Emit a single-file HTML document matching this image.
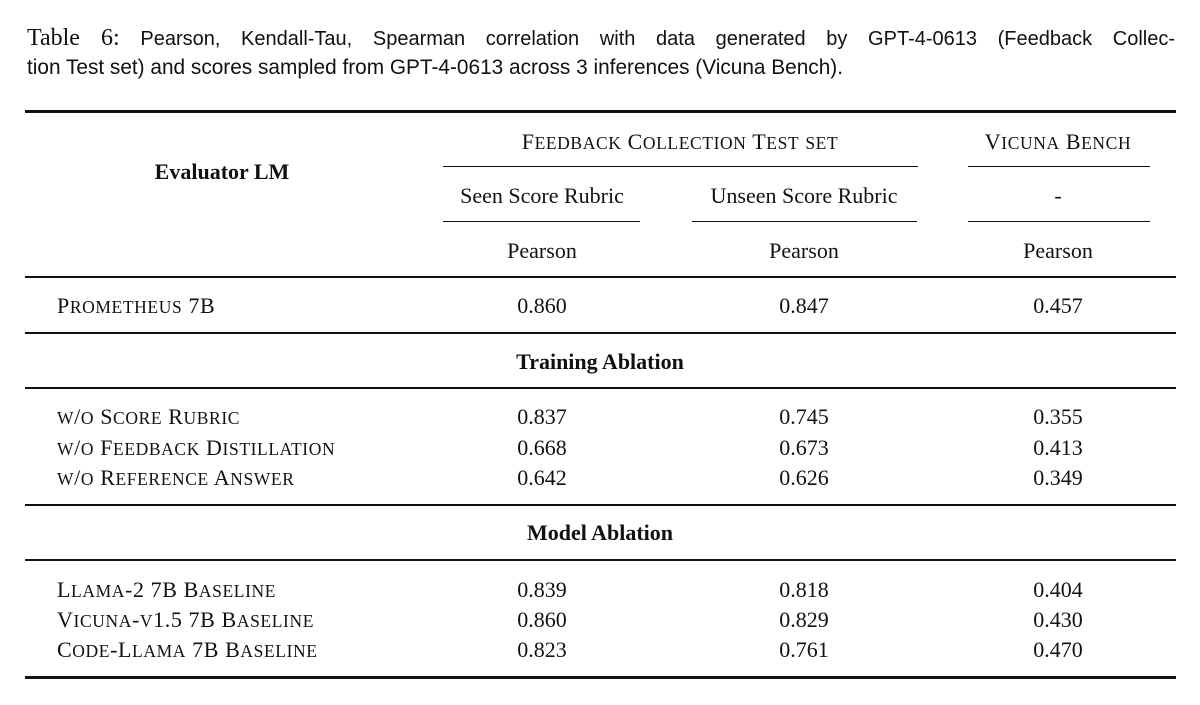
<!DOCTYPE html>
<html><head><meta charset="utf-8"><style>
body{margin:0;width:1200px;height:705px;background:#fff;position:relative;overflow:hidden;font-family:"Liberation Serif",serif;color:#111}
.t{position:absolute;white-space:nowrap;font-size:22px;line-height:1}
.c{transform:translateX(-50%)}
.sc{letter-spacing:0.6px}
.sc .s{font-size:17.5px}
.r{position:absolute;background:#111}
.cap{position:absolute;left:27px;font-family:"Liberation Sans",sans-serif;font-size:21px;line-height:1;white-space:nowrap;transform-origin:0 0}
</style></head><body>
<div class="cap" id="cap1" style="top:26px;width:1148px;text-align:justify;text-align-last:justify;font-size:20px"><span style="font-family:'Liberation Serif',serif;font-size:24px">Table 6:</span> Pearson, Kendall-Tau, Spearman correlation with data generated by GPT-4-0613 (Feedback Collec-</div>
<div class="cap" id="cap2" style="top:57px">tion Test set) and scores sampled from GPT-4-0613 across 3 inferences (Vicuna Bench).</div>

<div class="r" style="left:25px;width:1151px;top:110px;height:3px"></div>
<div class="t c" style="left:222px;top:161px;font-weight:bold">Evaluator LM</div>
<div class="t c sc" style="left:680px;top:131px">Feedback Collection Test set</div>
<div class="t c sc" style="left:1058px;top:131px">Vicuna Bench</div>
<div class="r" style="left:443px;width:475px;top:166px;height:1px"></div>
<div class="r" style="left:968px;width:182px;top:166px;height:1px"></div>
<div class="t c" style="left:542px;top:185px">Seen Score Rubric</div>
<div class="t c" style="left:804px;top:185px">Unseen Score Rubric</div>
<div class="t c" style="left:1058px;top:185px">-</div>
<div class="r" style="left:443px;width:197px;top:221px;height:1px"></div>
<div class="r" style="left:692px;width:225px;top:221px;height:1px"></div>
<div class="r" style="left:968px;width:182px;top:221px;height:1px"></div>
<div class="t c" style="left:542px;top:240px">Pearson</div>
<div class="t c" style="left:804px;top:240px">Pearson</div>
<div class="t c" style="left:1058px;top:240px">Pearson</div>
<div class="r" style="left:25px;width:1151px;top:276px;height:2px"></div>

<div class="t sc" style="left:57px;top:295px">Prometheus 7B</div>
<div class="t c" style="left:542px;top:295px">0.860</div>
<div class="t c" style="left:804px;top:295px">0.847</div>
<div class="t c" style="left:1058px;top:295px">0.457</div>
<div class="r" style="left:25px;width:1151px;top:332px;height:2px"></div>
<div class="t c" style="left:600px;top:351px;font-weight:bold">Training Ablation</div>
<div class="r" style="left:25px;width:1151px;top:387px;height:2px"></div>

<div class="t sc" style="left:57px;top:406px">w/o Score Rubric</div>
<div class="t c" style="left:542px;top:406px">0.837</div>
<div class="t c" style="left:804px;top:406px">0.745</div>
<div class="t c" style="left:1058px;top:406px">0.355</div>
<div class="t sc" style="left:57px;top:437px">w/o Feedback Distillation</div>
<div class="t c" style="left:542px;top:437px">0.668</div>
<div class="t c" style="left:804px;top:437px">0.673</div>
<div class="t c" style="left:1058px;top:437px">0.413</div>
<div class="t sc" style="left:57px;top:467px">w/o Reference Answer</div>
<div class="t c" style="left:542px;top:467px">0.642</div>
<div class="t c" style="left:804px;top:467px">0.626</div>
<div class="t c" style="left:1058px;top:467px">0.349</div>
<div class="r" style="left:25px;width:1151px;top:504px;height:2px"></div>
<div class="t c" style="left:600px;top:522px;font-weight:bold">Model Ablation</div>
<div class="r" style="left:25px;width:1151px;top:559px;height:2px"></div>

<div class="t sc" style="left:57px;top:579px">Llama-2 7B Baseline</div>
<div class="t c" style="left:542px;top:579px">0.839</div>
<div class="t c" style="left:804px;top:579px">0.818</div>
<div class="t c" style="left:1058px;top:579px">0.404</div>
<div class="t sc" style="left:57px;top:609px">Vicuna-v1.5 7B Baseline</div>
<div class="t c" style="left:542px;top:609px">0.860</div>
<div class="t c" style="left:804px;top:609px">0.829</div>
<div class="t c" style="left:1058px;top:609px">0.430</div>
<div class="t sc" style="left:57px;top:639px">Code-Llama 7B Baseline</div>
<div class="t c" style="left:542px;top:639px">0.823</div>
<div class="t c" style="left:804px;top:639px">0.761</div>
<div class="t c" style="left:1058px;top:639px">0.470</div>
<div class="r" style="left:25px;width:1151px;top:676px;height:3px"></div>
<script>
document.querySelectorAll('.sc').forEach(function(el){
  var txt=el.textContent, out='';
  for(var i=0;i<txt.length;i++){
    var ch=txt[i];
    if(ch>='a'&&ch<='z') out+='<span class="s">'+ch.toUpperCase()+'</span>';
    else out+=ch;
  }
  el.innerHTML=out;
});
var c2=document.getElementById('cap2');
var w=c2.getBoundingClientRect().width;
if(w>0){c2.style.transform='scaleX('+(816/w)+')';}
</script>
</body></html>
